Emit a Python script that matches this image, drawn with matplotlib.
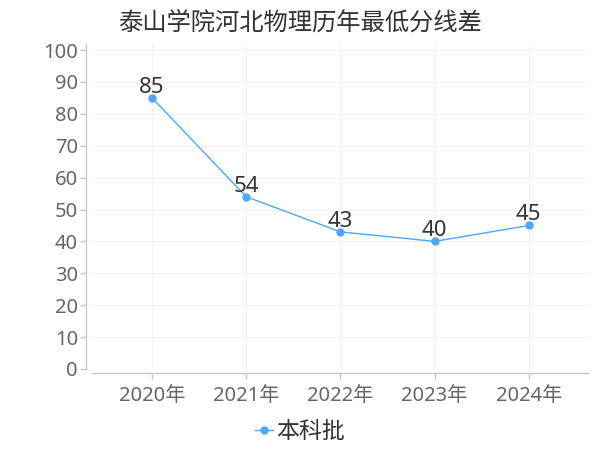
import matplotlib
matplotlib.use("Agg")
import matplotlib.pyplot as plt

plt.rcParams['font.family'] = ['Noto Sans', 'Noto Sans CJK SC', 'DejaVu Sans']

title = "泰山学院河北物理历年最低分线差"
years = ["2020年", "2021年", "2022年", "2023年", "2024年"]
values = [85, 54, 43, 40, 45]
series_name = "本科批"
yticks = [0, 10, 20, 30, 40, 50, 60, 70, 80, 90, 100]

line_color = "#4ea7f8"

fig = plt.figure(figsize=(6, 4.5), dpi=100)
ax = fig.add_axes([0.153, 0.18, 0.827, 0.723])

x = list(range(len(years)))
ax.plot(x, values, color=line_color, linewidth=1, marker='o', markersize=5,
        label=series_name, zorder=3)
for xi, v in zip(x, values):
    ax.annotate(str(v), (xi, v), xytext=(0, 0), textcoords='offset points',
                ha='center', va='bottom', fontsize=16, color='#333333', zorder=4)

ax.set_xlim(-0.64, 4.63)
ax.set_ylim(0, 102)
ax.set_xticks(x)
ax.set_xticklabels(years)
ax.set_yticks(yticks)

ax.grid(True, color='#f2f2f2', linewidth=0.8)
ax.set_axisbelow(True)

for s in ['top', 'right']:
    ax.spines[s].set_visible(False)
ax.spines['left'].set_position(('outward', 4))
ax.spines['bottom'].set_position(('outward', 3))
for s in ['left', 'bottom']:
    ax.spines[s].set_color('#c8c8c8')
    ax.spines[s].set_linewidth(1)

ax.tick_params(axis='both', colors='#c8c8c8', length=4, width=1, labelsize=14.5,
               labelcolor='#666666')
ax.tick_params(axis='x', pad=5)
ax.tick_params(axis='y', pad=2)

fig.suptitle(title, x=0.5, y=0.975, fontsize=17.5, color='#333333')

leg = fig.legend(loc='center', bbox_to_anchor=(0.5, 0.04), frameon=False,
                 fontsize=16.5, handlelength=0.75, handletextpad=0.15,
                 labelcolor='#333333')

fig.savefig("out.png", dpi=100)
